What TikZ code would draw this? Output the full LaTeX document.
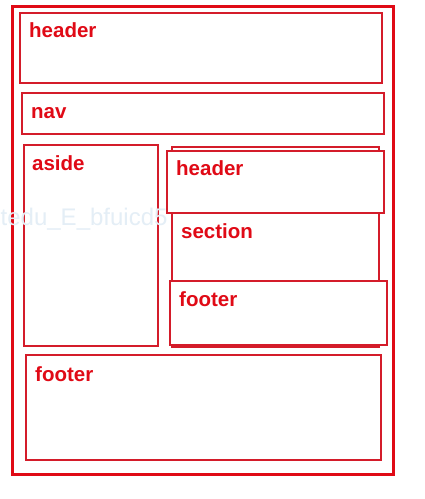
\documentclass[tikz,border=0pt]{standalone}
\usepackage{fontspec}
\setmainfont{Liberation Sans}
\definecolor{mainred}{RGB}{224,10,22}
\definecolor{boxred}{RGB}{212,28,42}
\definecolor{wmark}{RGB}{228,238,246}
\begin{document}
\begin{tikzpicture}[x=1pt,y=-1pt,
  box/.style={draw=boxred, line width=2pt, fill=white, inner sep=0pt, outer sep=0pt},
  outerbox/.style={draw=mainred, line width=3pt, inner sep=0pt, outer sep=0pt},
  lbl/.style={text=mainred, font=\fontsize{20.5}{22}\selectfont\bfseries, inner sep=0pt, anchor=base west}]
\useasboundingbox (0,0) rectangle (425,499);
\fill[white] (0,0) rectangle (425,499);
\node[outerbox, minimum width=381pt, minimum height=468pt] (page) at (202.5,240) {};
\node[box, minimum width=362pt, minimum height=70pt] (hdr) at (201,48) {};
\node[box, minimum width=362pt, minimum height=41pt] (nav) at (203,113.5) {};
\node[box, minimum width=134pt, minimum height=201pt] (aside) at (90.5,245.5) {};
\node[box, minimum width=207.5pt, minimum height=200pt] (sect) at (275.25,247) {};
\node[box, minimum width=217pt, minimum height=62pt] (ihdr) at (275.5,182) {};
\node[box, minimum width=217.5pt, minimum height=63.5pt] (iftr) at (278.25,312.75) {};
\node[box, minimum width=355pt, minimum height=105pt] (ftr) at (203.5,407.5) {};
\node[lbl] (thdr) at (29,37) {header};
\node[lbl] (tnav) at (31,118) {nav};
\node[lbl] (taside) at (32,170) {aside};
\node[lbl] (tihdr) at (176,175) {header};
\node[lbl] (tsect) at (181,238) {section};
\node[lbl] (tiftr) at (179,306) {footer};
\node[lbl] (tftr) at (35,381) {footer};
\node[text=wmark, font=\fontsize{24}{26}\selectfont, inner sep=0pt, anchor=base west] (wm) at (0.5,225) {tedu\_E\_bfuicd5};
\end{tikzpicture}
\end{document}
